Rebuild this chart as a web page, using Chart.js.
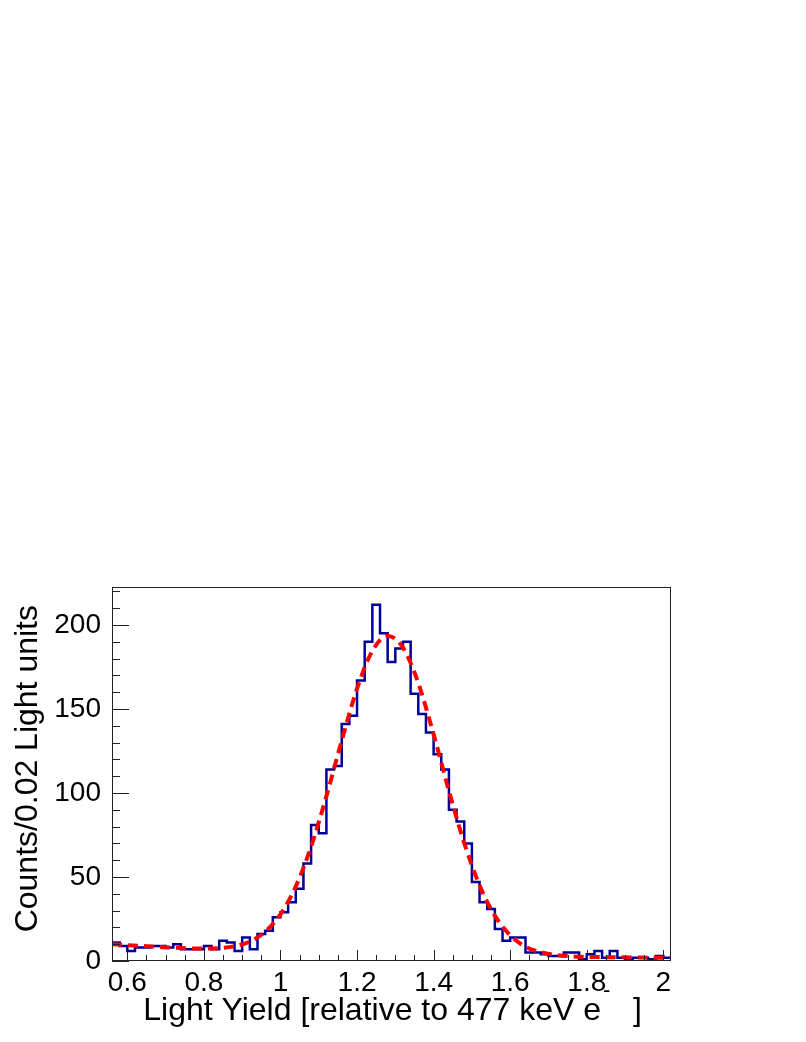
<!DOCTYPE html>
<html>
<head>
<meta charset="utf-8">
<script src="https://cdn.jsdelivr.net/npm/chart.js@4/dist/chart.umd.min.js"></script>
<style>
  body { margin: 0; background: #fff; }
  canvas { display: block; }
</style>
</head>
<body>
<canvas id="c" width="806" height="1042"></canvas>
<script>
// histogram: 73 bins of 0.02 starting at 0.56
var binStart = 0.56;
var binWidth = 0.02;
var counts = [
    11, 9, 6, 8, 8, 9, 9, 8, 10, 7,
    7, 7, 9, 7, 12, 11, 6, 14, 7, 16,
    18, 26, 29, 35, 43, 58, 81, 76, 114, 116,
    141, 146, 167, 190, 212, 195, 178, 186, 190, 159,
    147, 136, 123, 114, 90, 83, 70, 47, 35, 31,
    19, 12, 14, 14, 5, 5, 4, 3, 3, 5,
    5, 1, 4, 6, 2, 6, 2, 1, 2, 2,
    1, 3, 2
];

// fitted curve
var fitX = [0.56, 0.60, 0.64, 0.68, 0.72, 0.76, 0.80, 0.84, 0.88, 0.92, 0.96, 1.00,
    1.04, 1.08, 1.12, 1.16, 1.20, 1.24, 1.28, 1.32, 1.36, 1.40, 1.44, 1.48,
    1.52, 1.56, 1.60, 1.64, 1.68, 1.72, 1.76, 1.80, 1.84, 1.88, 1.92, 1.96, 2.00, 2.02];
var fitY = [10.0, 9.4, 8.9, 8.4, 7.9, 7.5, 7.4, 7.7, 8.8, 11.6, 17.4, 27.8,
    44.4, 68.1, 98.1, 131.2, 162.1, 184.6, 193.5, 186.5, 165.4, 134.9, 101.3, 70.2,
    45.1, 27.0, 15.3, 8.5, 5.2, 3.6, 2.8, 2.5, 2.3, 2.2, 2.1, 2.0, 2.0, 2.0];

var xTicks = [0.6, 0.8, 1.0, 1.2, 1.4, 1.6, 1.8, 2.0];
var xTickLabels = ['0.6', '0.8', '1', '1.2', '1.4', '1.6', '1.8', '2'];
var yTicks = [0, 50, 100, 150, 200];
var yTickLabels = ['0', '50', '100', '150', '200'];

var xMin = 0.56, xMax = 2.02;
var yMax = 222.6;

var histPoints = [];
for (var i = 0; i < counts.length; i++) {
    histPoints.push({ x: binStart + i * binWidth, y: counts[i] });
}
// close the last bin
histPoints.push({ x: binStart + counts.length * binWidth, y: counts[counts.length - 1] });

var fitPoints = fitX.map(function (x, i) { return { x: x, y: fitY[i] }; });

var FONT = "'Liberation Sans', Arial, sans-serif";

// frame, inner tick marks and axis titles (ROOT style)
var rootFrame = {
    id: 'rootFrame',
    afterDatasetsDraw: function (chart) {
        var ctx = chart.ctx;
        var a = chart.chartArea;
        var xs = chart.scales.x;
        var ys = chart.scales.y;
        ctx.save();
        ctx.strokeStyle = '#222';
        ctx.lineWidth = 1;
        ctx.strokeRect(a.left + 0.5, a.top + 0.5, a.right - a.left - 1, a.bottom - a.top - 1);

        ctx.beginPath();
        // x minor ticks every 0.05, major every 0.2
        for (var k = 0; k <= 28; k++) {
            var v = 0.6 + k * 0.05;
            var px = Math.round(xs.getPixelForValue(v)) + 0.5;
            var len = (k % 4 === 0) ? 11 : 6;
            ctx.moveTo(px, a.bottom);
            ctx.lineTo(px, a.bottom - len);
        }
        // y minor ticks every 10, major every 50
        for (var m = 0; m <= 22; m++) {
            var py = Math.round(ys.getPixelForValue(m * 10)) + 0.5;
            var l2 = (m % 5 === 0) ? 17 : 8;
            ctx.moveTo(a.left, py);
            ctx.lineTo(a.left + l2, py);
        }
        ctx.stroke();
        ctx.restore();
    },
    afterDraw: function (chart) {
        var ctx = chart.ctx;
        ctx.save();
        ctx.fillStyle = '#000';
        ctx.textBaseline = 'alphabetic';

        // x title with superscript
        ctx.font = '32px ' + FONT;
        ctx.textAlign = 'right';
        ctx.fillText('Light Yield [relative to 477 keV e', 601, 1020);
        ctx.font = '22px ' + FONT;
        ctx.textAlign = 'left';
        ctx.fillText('-', 603, 997);
        ctx.font = '32px ' + FONT;
        ctx.textAlign = 'right';
        ctx.fillText(']', 642, 1020);

        // y title
        ctx.translate(37, 605);
        ctx.rotate(-Math.PI / 2);
        ctx.textAlign = 'right';
        ctx.fillText('Counts/0.02 Light units', 0, 0);
        ctx.restore();
    }
};

new Chart(document.getElementById('c'), {
    type: 'line',
    data: {
        datasets: [{
            label: 'fit',
            data: fitPoints,
            borderColor: '#ff0000',
            borderWidth: 4,
            borderDash: [10, 6],
            pointRadius: 0,
            cubicInterpolationMode: 'monotone',
            fill: false,
            order: 0
        }, {
            label: 'data',
            data: histPoints,
            borderColor: '#000099',
            borderWidth: 2.5,
            stepped: 'before',
            pointRadius: 0,
            fill: false,
            order: 1
        }]
    },
    options: {
        responsive: false,
        animation: false,
        devicePixelRatio: 1,
        layout: { padding: { top: 587, right: 135, left: 0, bottom: 0 } },
        plugins: {
            legend: { display: false },
            tooltip: { enabled: false }
        },
        scales: {
            x: {
                type: 'linear',
                min: xMin,
                max: xMax,
                grid: { display: false, drawTicks: false },
                border: { display: false },
                afterBuildTicks: function (scale) {
                    scale.ticks = xTicks.map(function (v) { return { value: v }; });
                },
                afterFit: function (scale) { scale.height = 81; },
                ticks: {
                    autoSkip: false,
                    maxRotation: 0,
                    padding: 5,
                    color: '#000',
                    font: { family: FONT, size: 28 },
                    callback: function (v) {
                        var idx = xTicks.findIndex(function (t) { return Math.abs(t - v) < 1e-6; });
                        return idx >= 0 ? xTickLabels[idx] : '';
                    }
                }
            },
            y: {
                type: 'linear',
                min: 0,
                max: yMax,
                grid: { display: false, drawTicks: false },
                border: { display: false },
                afterBuildTicks: function (scale) {
                    scale.ticks = yTicks.map(function (v) { return { value: v }; });
                },
                afterFit: function (scale) { scale.width = 112; },
                ticks: {
                    autoSkip: false,
                    padding: 11,
                    color: '#000',
                    font: { family: FONT, size: 28 },
                    callback: function (v) {
                        var idx = yTicks.indexOf(v);
                        return idx >= 0 ? yTickLabels[idx] : '';
                    }
                }
            }
        }
    },
    plugins: [rootFrame]
});
</script>
</body>
</html>
